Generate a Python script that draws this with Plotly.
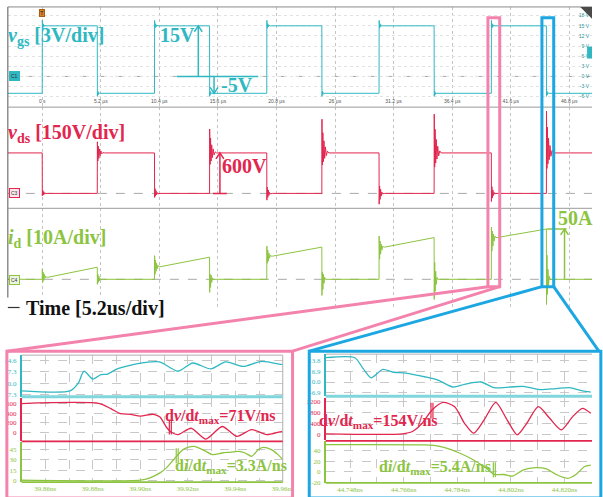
import plotly.graph_objects as go

W, H = 603, 497


def px(x):
    return x / W


def py(y):
    return 1 - y / H


TEAL = "#2fb8c2"
CRIMSON = "#e2264e"
GREEN = "#8cc43f"
PINK = "#f383ad"
BLUE = "#1ca7e2"
SERIF = "Liberation Serif"

# ---------------- scope capture (time in us) ----------------
T_START, T_END = -3.05, 48.82
T_ON = [0.0, 9.97, 19.94, 29.91, 39.88]
T_OFF = [4.89, 14.86, 24.83, 34.80, 44.77]
TIME_TICKS = [0, 5.2, 10.4, 15.6, 20.8, 26, 31.2, 36.4, 41.6, 46.8]
TIME_LABELS = ["0 s", "5.2 µs", "10.4 µs", "15.6 µs", "20.8 µs", "26 µs",
               "31.2 µs", "36.4 µs", "41.6 µs", "46.8 µs"]

# time offsets of the ringing samples after each edge (us)
RING_DT = [0.01, 0.05, 0.09, 0.14, 0.19, 0.25, 0.32, 0.40, 0.50, 0.62]

VGS_HIGH, VGS_LOW = 15, -5
VGS_RISE_RING = [16.6, 14.3, 15.6, 14.7, 15.2, 15.0]
VGS_FALL_RING = [-5.9, -4.4, -5.4, -4.8, -5.0]

VDS_HIGH, VDS_LOW = 600, 0
VDS_OFF_RING = [
    [765, 480, 700, 520, 660, 560, 630, 585, 605, 600],
    [955, 430, 820, 480, 720, 530, 660, 570, 615, 600],
    [1100, 420, 900, 470, 780, 520, 690, 560, 625, 600],
    [1175, 390, 950, 450, 800, 510, 700, 555, 630, 600],
    [1220, 370, 980, 440, 820, 500, 710, 550, 635, 600],
]
VDS_ON_RING = [
    [-35, 45, -25, 25, -12, 8, -3, 0],
    [-60, 70, -40, 40, -20, 12, -5, 0],
    [-100, 90, -60, 50, -30, 15, -6, 0],
    [-160, 110, -90, 60, -40, 20, -8, 0],
    [-120, 100, -70, 50, -30, 15, -6, 0],
]

ID_START = [2, 12.5, 23, 32, 41.5]
ID_END = [12, 22, 32, 41.5, 50]
ID_ON_RING = [
    [10, -3, 7, -1, 5, 1, 3, 2],
    [23.5, 5, 19, 8, 16, 10.5, 14, 12.5],
    [33, 16, 29, 18, 26, 21, 24, 23],
    [43, 20, 38, 25, 35, 29, 33, 32],
    [52, 28, 48, 33, 45, 38, 43, 41.5],
]
ID_OFF_RING = [
    [-5, 5, -3, 3, -1.5, 1, 0],
    [-13, 5, -8, 4, -3, 1.5, 0],
    [-16, 7, -10, 5, -4, 2, 0],
    [-20, 17, -12, 8, -5, 2, 0],
    [-25, 24, -15, 10, -6, 3, 0],
]

VGS_TICKS = [-6, -3, 0, 3, 6, 9, 12, 15, 18]
VDS_TICKS = [-150, 0, 150, 300, 450, 600, 750, 900, 1050, 1200]
VDS_TICK_TEXT = ["-150 V", "0 V", "150 V", "300 V", "450 V", "600 V",
                 "750 V", "900 V", "1.05 kV", "1.20 kV"]
ID_TICKS = [-20, -10, 0, 10, 20, 30, 40, 50]

# ---------------- turn-on detail (pink) ----------------
P_T_VGS = [39.85, 39.8704, 39.8738, 39.8763, 39.88, 39.8834, 39.8862, 39.8903,
           39.8957, 39.9014, 39.9081, 39.9159, 39.9221, 39.9297, 39.9359,
           39.9433, 39.9511, 39.9594, 39.96]
P_VGS = [-5, -5, -0.2, 7.7, 2.6, 5.5, 5.9, 9.2, 11.5, 13.2, 13.7, 7.7, 13.0,
         9.2, 13.7, 10.8, 14.1, 12.1, 12.0]
P_T_VDS = [39.85, 39.8828, 39.8876, 39.8917, 39.8959, 39.90, 39.9055, 39.9083,
           39.911, 39.9131, 39.9159, 39.9214, 39.9276, 39.9345, 39.9407,
           39.9469, 39.9532, 39.9594, 39.96]
P_VDS = [600, 600, 495, 390, 378, 342, 378, 321, 111, 6, -42, 90, -134, 126,
         -78, 63, -42, 21, 15]
P_T_ID = [39.85, 39.90, 39.9041, 39.9083, 39.911, 39.9138, 39.9159, 39.918,
          39.92, 39.9228, 39.9248, 39.9276, 39.9304, 39.9345, 39.9373, 39.9414,
          39.9442, 39.9469, 39.9497, 39.9517, 39.9552, 39.958, 39.96]
P_ID = [0.3, 0.4, 3.8, 11, 18.3, 29.5, 37.7, 45, 48.4, 49.8, 47.3, 42.5, 37.7,
        40.1, 41.1, 42.5, 40.1, 35.3, 45, 48.4, 45, 37.7, 30.5]
P_XTICKS = [39.86, 39.88, 39.90, 39.92, 39.94, 39.96]
P_XTEXT = ["39.86ns", "39.88ns", "39.90ns", "39.92ns", "39.94ns", "39.96ns"]
P_XMINOR = [39.85, 39.87, 39.89, 39.91, 39.93, 39.95]
P_VGS_TICKS, P_VGS_TEXT = [-7.3, 0, 7.3, 14.6], ["-7.3", "0.0", "7.3", "14.6"]
P_VDS_TICKS = [0, 200, 400, 600]
P_ID_TICKS = [0, 15, 30, 45]

# ---------------- turn-off detail (blue) ----------------
B_T_VGS = [44.7398, 44.7496, 44.7524, 44.7551, 44.7590, 44.7623, 44.7667,
           44.7733, 44.7777, 44.7826, 44.7864, 44.7919, 44.7963, 44.8018,
           44.8062, 44.8117, 44.8172, 44.8216, 44.8260, 44.8288]
B_VGS = [15.5, 15.5, 8.5, 2.7, 8.1, 6.4, 5.7, 3.2, 1.1, -3.2, -1.5, 0.0, -3.6,
         -3.2, -2.8, -4.9, -4.2, -3.6, -5.7, -6.4]
B_T_VDS = [44.7398, 44.7656, 44.7689, 44.7722, 44.7755, 44.7793, 44.7831,
           44.7864, 44.7895, 44.7930, 44.7969, 44.8007, 44.8041, 44.8073,
           44.8112, 44.8150, 44.8189, 44.8227, 44.8260, 44.8288]
B_VDS = [36, 36, 119, 418, 901, 1175, 1020, 418, 58, 541, 1175, 541, 0, 418,
         1020, 598, 180, 660, 959, 778]
B_T_ID = [44.7398, 44.7733, 44.7766, 44.7798, 44.7843, 44.7887, 44.7930,
          44.7952, 44.7966, 44.7996, 44.8024, 44.8062, 44.8101, 44.8139,
          44.8172, 44.8211, 44.8238, 44.8266, 44.8288]
B_ID = [52, 51.5, 50.2, 46, 37, 25.1, 10, 0, -4.8, -4.8, -7.9, 4.1, 8.3, 5.9,
        -4.8, -12, -4.8, 10, 13.1]
B_XTICKS = [44.748, 44.766, 44.784, 44.802, 44.820]
B_XTEXT = ["44.748ns", "44.766ns", "44.784ns", "44.802ns", "44.820ns"]
B_XMINOR = [44.739, 44.757, 44.775, 44.793, 44.811, 44.829]
B_VGS_TICKS, B_VGS_TEXT = [-6.9, 0, 6.9, 13.8], ["-6.9", "0.0", "6.9", "13.8"]
B_VDS_TICKS = [0, 400, 800, 1200]
B_ID_TICKS = [-20, 0, 20, 40]


def switching_wave(off_level, on_start, on_end, on_rings, off_rings):
    """Piecewise waveform: off level, ringing at turn-on, on-state segment
    from on_start to on_end, ringing at turn-off, back to off level."""
    xs, ys = [T_START], [off_level]
    for k, (ton, toff) in enumerate(zip(T_ON, T_OFF)):
        xs.append(ton)
        ys.append(off_level)
        for dt, v in zip(RING_DT, on_rings[k]):
            xs.append(ton + dt)
            ys.append(v)
        xs.append(ton + RING_DT[len(on_rings[k])])
        ys.append(on_start[k])
        xs.append(toff)
        ys.append(on_end[k])
        for dt, v in zip(RING_DT, off_rings[k]):
            xs.append(toff + dt)
            ys.append(v)
    xs.append(T_END)
    ys.append(off_level)
    return xs, ys


n = len(T_ON)
vgs_x, vgs_y = switching_wave(VGS_LOW, [VGS_HIGH] * n, [VGS_HIGH] * n,
                              [VGS_RISE_RING] * n, [VGS_FALL_RING] * n)
vds_x, vds_y = switching_wave(VDS_HIGH, [VDS_LOW] * n, [VDS_LOW] * n,
                              VDS_ON_RING, VDS_OFF_RING)
id_x, id_y = switching_wave(0, ID_START, ID_END, ID_ON_RING, ID_OFF_RING)

fig = go.Figure()
fig.add_trace(go.Scatter(x=vgs_x, y=vgs_y, xaxis="x", yaxis="y", mode="lines",
                         line=dict(color=TEAL, width=1)))
fig.add_trace(go.Scatter(x=vds_x, y=vds_y, xaxis="x", yaxis="y2", mode="lines",
                         line=dict(color=CRIMSON, width=1)))
fig.add_trace(go.Scatter(x=id_x, y=id_y, xaxis="x", yaxis="y3", mode="lines",
                         line=dict(color=GREEN, width=1)))

detail = [
    (P_T_VGS, P_VGS, "x2", "y4", TEAL), (P_T_VDS, P_VDS, "x2", "y5", CRIMSON),
    (P_T_ID, P_ID, "x2", "y6", GREEN),
    (B_T_VGS, B_VGS, "x3", "y7", TEAL), (B_T_VDS, B_VDS, "x3", "y8", CRIMSON),
    (B_T_ID, B_ID, "x3", "y9", GREEN),
]
for xs, ys, xa, ya, col in detail:
    fig.add_trace(go.Scatter(x=xs, y=ys, xaxis=xa, yaxis=ya, mode="lines",
                             line=dict(color=col, width=1.3, shape="spline",
                                       smoothing=0.7)))

scope_tick_font = dict(family="Liberation Sans", size=5)


def scope_y(domain, rng, ticks, text, color):
    return dict(domain=domain, range=rng, anchor="x", side="right",
                ticklabelposition="inside", tickvals=ticks, ticktext=text,
                tickfont=dict(scope_tick_font, color=color), ticks="",
                showgrid=True, gridcolor="#e2e2e2", griddash="dot",
                zeroline=False, showline=False, fixedrange=True)


def detail_y(domain, rng, anchor, ticks, text, color):
    return dict(domain=domain, range=rng, anchor=anchor, side="left",
                tickvals=ticks, ticktext=text, ticks="",
                ticklabelstandoff=2,
                tickfont=dict(family=SERIF, size=7, color=color),
                showgrid=True, gridcolor="#c8c8c8", griddash="dash",
                gridwidth=0.8, zeroline=False, showline=True,
                linecolor=color, linewidth=1.5)


def detail_x(domain, rng, anchor, ticks, text, minor):
    return dict(domain=domain, range=rng, anchor=anchor, tickvals=ticks,
                ticktext=text, ticks="", ticklabelstandoff=1,
                tickfont=dict(family=SERIF, size=7, color=GREEN),
                showgrid=True, gridcolor="#c8c8c8", griddash="dash",
                gridwidth=0.8, zeroline=False, showline=False,
                minor=dict(tickvals=minor, showgrid=True, gridcolor="#c8c8c8",
                           griddash="dash", gridwidth=0.8, ticks=""))


layout = dict(
    width=W, height=H, margin=dict(l=0, r=0, t=0, b=0),
    paper_bgcolor="white", plot_bgcolor="white", showlegend=False,
    xaxis=dict(domain=[px(8), 1], range=[T_START, T_END], anchor="y",
               tickvals=TIME_TICKS, ticktext=TIME_LABELS,
               ticklabelposition="inside", ticks="",
               tickfont=dict(scope_tick_font, color="#555555"),
               showgrid=True, gridcolor="#c4c4c4", griddash="dot",
               zeroline=False, showline=False),
    yaxis=scope_y([py(108), py(7)], [-9.1, 20.6], VGS_TICKS,
                  [f"{v} V" for v in VGS_TICKS], "#2a8f96"),
    yaxis2=scope_y([py(210), py(108)], [-221, 1279], VDS_TICKS,
                   VDS_TICK_TEXT, "#b3223f"),
    yaxis3=scope_y([py(312.5), py(210)], [-30.5, 70.6], ID_TICKS,
                   [f"{v} A" for v in ID_TICKS], "#6f9a30"),
    xaxis2=detail_x([px(22), px(288)], [39.85, 39.96], "y6", P_XTICKS,
                    P_XTEXT, P_XMINOR),
    yaxis4=detail_y([py(400), py(358)], [-8.8, 18.1], "x2", P_VGS_TICKS,
                    P_VGS_TEXT, TEAL),
    yaxis5=detail_y([py(445), py(401)], [-182, 719], "x2", P_VDS_TICKS,
                    [str(v) for v in P_VDS_TICKS], CRIMSON),
    yaxis6=detail_y([py(486), py(446)], [-2.5, 55.6], "x2", P_ID_TICKS,
                    [str(v) for v in P_ID_TICKS], GREEN),
    xaxis3=detail_x([px(331.7), 1], [44.7398, 44.8292], "y9", B_XTICKS,
                    B_XTEXT, B_XMINOR),
    yaxis7=detail_y([py(399), py(357)], [-8.8, 17.8], "x3", B_VGS_TICKS,
                    B_VGS_TEXT, TEAL),
    yaxis8=detail_y([py(444), py(401)], [-205, 1344], "x3", B_VDS_TICKS,
                    [str(v) for v in B_VDS_TICKS], CRIMSON),
    yaxis9=detail_y([py(486.7), py(445)], [-20.5, 58], "x3", B_ID_TICKS,
                    [str(v) for v in B_ID_TICKS], GREEN),
)
fig.update_layout(**layout)

shapes = []


def pline(x0, y0, x1, y1, color, width=1, dash="solid", layer="above"):
    shapes.append(dict(type="line", xref="paper", yref="paper",
                       x0=px(x0), y0=py(y0), x1=px(x1), y1=py(y1),
                       line=dict(color=color, width=width, dash=dash),
                       layer=layer))


# scope frame and panel separators
pline(8, 7, 603, 7, "#8a8a8a", 1)
pline(8, 7, 8, 300, "#555555", 1)
pline(8, 108, 603, 108, "#9a9a9a", 1)
pline(8, 210, 603, 210, "#9a9a9a", 1)
pline(8, 310, 20, 310, "#333333", 1.2)

# zero references (dashed)
for yref in ("y", "y2", "y3"):
    shapes.append(dict(type="line", xref="x", yref=yref, x0=T_START, x1=T_END,
                       y0=0, y1=0, line=dict(color="#a8a8a8", width=1,
                                             dash="dash"), layer="below"))

# top-right corner mark
shapes.append(dict(type="path", xref="paper", yref="paper",
                   path=f"M {px(591)} {py(7)} L {px(603)} {py(7)} L {px(603)} {py(19)} Z",
                   fillcolor="#4a4a4a", line=dict(width=0)))
# channel offset marker on the right of the vgs panel
shapes.append(dict(type="rect", xref="paper", yref="paper",
                   x0=px(598), x1=px(603), y0=py(59), y1=py(47),
                   fillcolor=TEAL, line=dict(width=0)))

# value callouts on the scope traces: reference ticks
shapes.append(dict(type="line", xref="x", yref="y", x0=11.94, x1=19.18,
                   y0=0, y1=0, line=dict(color=TEAL, width=1.5)))
shapes.append(dict(type="line", xref="x", yref="y2", x0=15.17, x1=16.39,
                   y0=0, y1=0, line=dict(color=CRIMSON, width=1.5)))
shapes.append(dict(type="line", xref="x", yref="y3", x0=44.81, x1=46.56,
                   y0=ID_END[-1], y1=ID_END[-1],
                   line=dict(color=GREEN, width=1.5)))

# value callouts: arrows from 0 to the stated level
# (px per data unit on each scope axis, used for the arrowhead size)
X_PX = 11.47
Y_PX = {"y": 3.4, "y2": 0.068, "y3": 1.02}
for x, yref, y_to, col in [(13.86, "y", VGS_HIGH, TEAL),
                           (15.26, "y", VGS_LOW, TEAL),
                           (15.78, "y2", VDS_HIGH, CRIMSON),
                           (46.38, "y3", ID_END[-1], GREEN)]:
    shapes.append(dict(type="line", xref="x", yref=yref, x0=x, x1=x, y0=0,
                       y1=y_to, line=dict(color=col, width=1.5)))
    hw = 4 / X_PX
    hl = (6 / Y_PX[yref]) * (1 if y_to > 0 else -1)
    shapes.append(dict(type="path", xref="x", yref=yref,
                       path=f"M {x - hw} {y_to - hl} L {x} {y_to} L {x + hw} {y_to - hl}",
                       line=dict(color=col, width=1.5)))

# zoom windows on the scope
shapes.append(dict(type="rect", xref="paper", yref="paper", x0=px(497),
                   x1=px(509), y0=py(289), y1=py(18),
                   line=dict(color=PINK, width=3)))
shapes.append(dict(type="rect", xref="paper", yref="paper", x0=px(552),
                   x1=px(564), y0=py(289), y1=py(18),
                   line=dict(color=BLUE, width=3)))
pline(497, 289, 7, 354, PINK, 3)
pline(509, 289, 298, 354, PINK, 3)
pline(552, 289, 315, 354, BLUE, 3)
pline(564, 289, 610, 354, BLUE, 3)

# detail frames
shapes.append(dict(type="rect", xref="paper", yref="paper", x0=px(7),
                   x1=px(298), y0=py(502), y1=py(354),
                   line=dict(color=PINK, width=3)))
shapes.append(dict(type="rect", xref="paper", yref="paper", x0=px(315),
                   x1=px(612), y0=py(502), y1=py(354),
                   line=dict(color=BLUE, width=3)))

# detail panel separators
pline(22, 358, 288, 358, "#b0b0b0", 1)
pline(288, 358, 288, 486, "#b0b0b0", 1)
pline(22, 400, 288, 400, "#7fd6dc", 3)
pline(22, 445, 288, 445, CRIMSON, 1.8)
pline(22, 486, 288, 486, GREEN, 1.8)
pline(331.7, 357, 603, 357, "#b0b0b0", 1)
pline(331.7, 399.5, 603, 399.5, "#7fd6dc", 3)
pline(331.7, 444.5, 603, 444.5, CRIMSON, 1.8)
pline(331.7, 486.7, 603, 486.7, GREEN, 1.8)

# slope markers
for xm, y0, y1, col in [(172.5, 423, 438, CRIMSON), (179.5, 452, 467, GREEN),
                        (439, 406, 422, CRIMSON), (502.5, 466, 481, GREEN)]:
    pline(xm, y0, xm, y1, col, 1.2)
    pline(xm + 2, y0, xm + 2, y1, col, 1.2)

fig.update_layout(shapes=shapes)

ann = []


def label(x, y, text, color, size=20, anchor="left", **kw):
    ann.append(dict(xref="paper", yref="paper", x=px(x), y=py(y), text=text,
                    showarrow=False, xanchor=anchor, yanchor="middle",
                    font=dict(family=SERIF, size=size, color=color), **kw))


label(6, 37, "<b><i>v</i><sub>gs</sub> [3V/div]</b>", TEAL)
label(161, 35, "<b>15V</b>", TEAL)
label(223, 86, "<b>-5V</b>", TEAL)
label(6, 135, "<b><i>v</i><sub>ds</sub> [150V/div]</b>", CRIMSON)
label(224, 167, "<b>600V</b>", CRIMSON)
label(6, 240, "<b><i>i</i><sub>d</sub> [10A/div]</b>", GREEN)
label(566, 220, "<b>50A</b>", GREEN)
label(24, 310, "<b>Time [5.2us/div]</b>", "#111111", bgcolor="white")
label(166, 420, "<b>d<i>v</i>/d<i>t</i><sub>max</sub>=71V/ns</b>", CRIMSON,
      size=16)
label(176, 470, "<b>d<i>i</i>/d<i>t</i><sub>max</sub>=3.3A/ns</b>", GREEN,
      size=16)
label(323, 425, "<b>d<i>v</i>/d<i>t</i><sub>max</sub>=154V/ns</b>", CRIMSON,
      size=16)
label(384, 471, "<b>d<i>i</i>/d<i>t</i><sub>max</sub>=5.4A/ns</b>", GREEN,
      size=16)

# channel tags and trigger mark
for y, txt, bg, border in [(77, "C1", TEAL, TEAL), (195, "C3", "#fde6ec", CRIMSON),
                           (282, "C4", "#eef6e2", GREEN)]:
    ann.append(dict(xref="paper", yref="paper", x=px(9), y=py(y), text=txt,
                    showarrow=False, xanchor="left", yanchor="middle",
                    font=dict(family="Liberation Sans", size=5, color="#333333"),
                    bgcolor=bg, bordercolor=border, borderwidth=1, borderpad=1))
ann.append(dict(xref="paper", yref="paper", x=px(43), y=py(13), text="T",
                showarrow=False, xanchor="center", yanchor="middle",
                font=dict(family="Liberation Sans", size=6, color="#222222"),
                bgcolor="#d9822b", bordercolor="#a85d14", borderwidth=1,
                borderpad=0))

fig.update_layout(annotations=ann)
fig.write_html("out.html")
